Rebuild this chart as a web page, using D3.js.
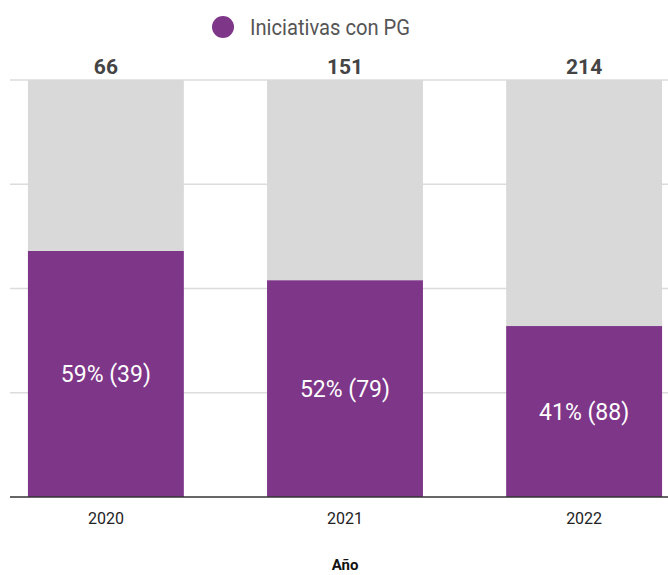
<!DOCTYPE html>
<html>
<head>
<meta charset="utf-8">
<script src="https://cdn.jsdelivr.net/npm/d3@7"></script>
<style>
  body { margin: 0; background: #fff; }
  svg { display: block; font-family: Roboto, sans-serif; }
</style>
</head>
<body>
<svg id="chart"></svg>
<script>
// data
const years = ['2020', '2021', '2022'];
const totals = [66, 151, 214];
const withPG = [39, 79, 88];
const pctPG = [59, 52, 41];
const pctTicks = [0, 25, 50, 75, 100];

// drawing constants
const W = 668, H = 575;
const TOP = 80, BOTTOM = 497;
const LEFT = 10;
const PURPLE = '#7e3689';
const GREY = '#d9d9d9';

const rows = years.map((y, i) => ({ year: y, pg: pctPG[i], rest: 100 - pctPG[i] }));
const series = d3.stack().keys(['pg', 'rest'])(rows);

const svg = d3.select('#chart').attr('width', W).attr('height', H);

const x = d3.scaleBand().domain(years).range([LEFT, 680])
  .paddingInner(0.348).paddingOuter(0.075);
const y = d3.scaleLinear().domain([0, 100]).range([BOTTOM, TOP]);

// gridlines
svg.append('g').selectAll('line')
  .data(pctTicks.slice(1))
  .join('line')
  .attr('x1', LEFT).attr('x2', W)
  .attr('y1', d => y(d)).attr('y2', d => y(d))
  .attr('stroke', '#dcdcdc').attr('stroke-width', 1.5);

// bars
svg.append('g').selectAll('g')
  .data(series)
  .join('g')
  .attr('fill', d => d.key === 'pg' ? PURPLE : GREY)
  .selectAll('rect')
  .data(d => d)
  .join('rect')
  .attr('x', d => x(d.data.year))
  .attr('width', x.bandwidth())
  .attr('y', d => y(d[1]))
  .attr('height', d => y(d[0]) - y(d[1]));

// baseline
svg.append('line')
  .attr('x1', LEFT).attr('x2', W)
  .attr('y1', BOTTOM).attr('y2', BOTTOM)
  .attr('stroke', '#333').attr('stroke-width', 1.5);

// labels inside purple segments
svg.append('g').selectAll('text')
  .data(series[0])
  .join('text')
  .attr('x', d => x(d.data.year) + x.bandwidth() / 2)
  .attr('y', d => (y(d[0]) + y(d[1])) / 2)
  .attr('dy', '0.35em')
  .attr('text-anchor', 'middle')
  .attr('fill', '#fff')
  .attr('font-size', 23)
  .text((d, i) => `${pctPG[i]}% (${withPG[i]})`);

// totals above bars
svg.append('g').selectAll('text')
  .data(years)
  .join('text')
  .attr('x', d => x(d) + x.bandwidth() / 2)
  .attr('y', 67)
  .attr('dy', '0.35em')
  .attr('text-anchor', 'middle')
  .attr('font-weight', 'bold')
  .attr('font-size', 21)
  .attr('fill', '#444')
  .text((d, i) => totals[i]);

// x axis
const xAxis = svg.append('g')
  .attr('transform', `translate(0,${BOTTOM})`)
  .call(d3.axisBottom(x).tickSize(0).tickPadding(16));
xAxis.select('.domain').remove();
xAxis.selectAll('text')
  .attr('font-family', 'Roboto, sans-serif')
  .attr('font-size', 16)
  .attr('fill', '#222');

svg.append('text')
  .attr('x', 345).attr('y', 565)
  .attr('dy', '0.35em')
  .attr('text-anchor', 'middle')
  .attr('font-weight', 'bold')
  .attr('font-size', 15)
  .attr('fill', '#111')
  .text('Año');

// legend
svg.append('circle')
  .attr('cx', 223).attr('cy', 27).attr('r', 11)
  .attr('fill', PURPLE);
svg.append('text')
  .attr('x', 250).attr('y', 27)
  .attr('dy', '0.35em')
  .attr('font-size', 22)
  .attr('fill', '#555')
  .attr('textLength', 160)
  .attr('lengthAdjust', 'spacingAndGlyphs')
  .text('Iniciativas con PG');
</script>
</body>
</html>
